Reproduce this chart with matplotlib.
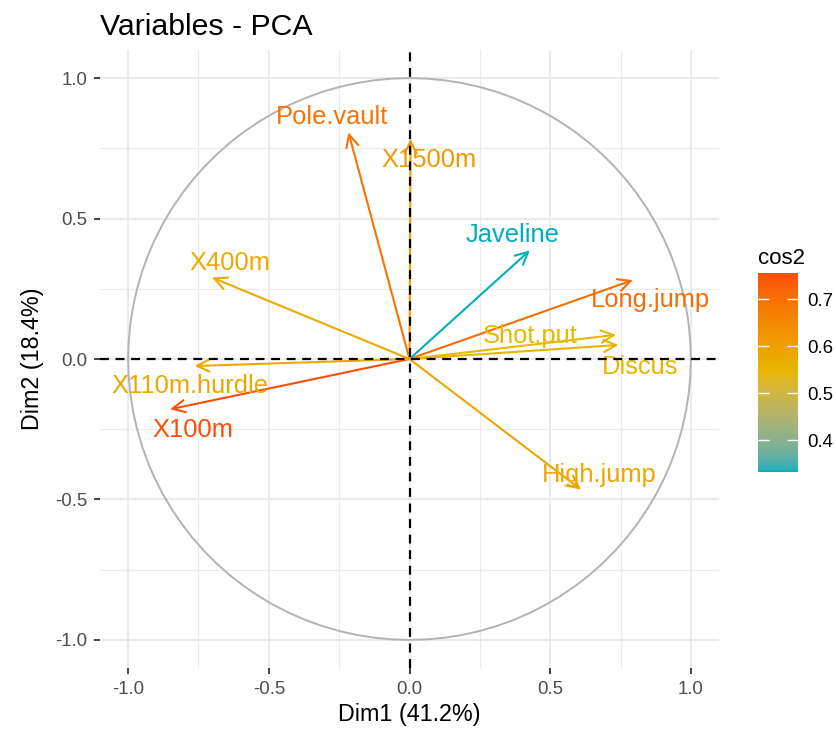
import numpy as np
import matplotlib
matplotlib.use("Agg")
import matplotlib.pyplot as plt
from matplotlib.colors import ListedColormap, Normalize, to_rgb
from matplotlib.patches import FancyArrowPatch

plt.rcParams['font.family'] = ['Liberation Sans', 'DejaVu Sans']

# coordenadas das variáveis (Dim1, Dim2)
variables = ['X100m', 'Long.jump', 'Shot.put', 'High.jump', 'X400m',
             'X110m.hurdle', 'Discus', 'Pole.vault', 'Javeline', 'X1500m']
dim1 = [-0.851, 0.794, 0.734, 0.610, -0.702, -0.764, 0.743, -0.217, 0.428, 0.004]
dim2 = [-0.179, 0.281, 0.086, -0.465, 0.290, -0.025, 0.050, 0.807, 0.387, 0.784]
cos2 = [0.756, 0.709, 0.546, 0.588, 0.577, 0.584, 0.555, 0.698, 0.333, 0.615]

# posição dos rótulos (centro x, linha de base y), como no ggrepel
label_pos = {
    'X100m': (-0.771, -0.277),
    'Long.jump': (0.855, 0.185),
    'Shot.put': (0.428, 0.057),
    'High.jump': (0.675, -0.437),
    'X400m': (-0.638, 0.316),
    'X110m.hurdle': (-0.780, -0.121),
    'Discus': (0.819, -0.053),
    'Pole.vault': (-0.275, 0.835),
    'Javeline': (0.366, 0.416),
    'X1500m': (0.071, 0.682),
}

ticks = [-1.0, -0.5, 0.0, 0.5, 1.0]
cbar_ticks = [0.4, 0.5, 0.6, 0.7]
grad_cols = ['#00AFBB', '#E7B800', '#FC4E07']


# gradiente interpolado em Lab (como o ggplot)
def srgb_to_lab(rgb):
    rgb = np.asarray(rgb, dtype=float)
    lin = np.where(rgb <= 0.04045, rgb / 12.92, ((rgb + 0.055) / 1.055) ** 2.4)
    M = np.array([[0.4124, 0.3576, 0.1805], [0.2126, 0.7152, 0.0722], [0.0193, 0.1192, 0.9505]])
    xyz = M @ lin / np.array([0.95047, 1.0, 1.08883])
    f = np.where(xyz > 0.008856, np.cbrt(xyz), 7.787 * xyz + 16 / 116)
    return np.array([116 * f[1] - 16, 500 * (f[0] - f[1]), 200 * (f[1] - f[2])])


def lab_to_srgb(lab):
    L, a, b = lab
    fy = (L + 16) / 116
    fx = fy + a / 500
    fz = fy - b / 200
    f = np.array([fx, fy, fz])
    xyz = np.where(f ** 3 > 0.008856, f ** 3, (f - 16 / 116) / 7.787) * np.array([0.95047, 1.0, 1.08883])
    Minv = np.array([[3.2406, -1.5372, -0.4986], [-0.9689, 1.8758, 0.0415], [0.0557, -0.2040, 1.0570]])
    lin = Minv @ xyz
    rgb = np.where(lin <= 0.0031308, 12.92 * lin, 1.055 * np.clip(lin, 0, None) ** (1 / 2.4) - 0.055)
    return np.clip(rgb, 0, 1)


labs = [srgb_to_lab(to_rgb(c)) for c in grad_cols]
lut = []
for t in np.linspace(0, 1, 256):
    seg = min(int(t * 2), 1)
    u = t * 2 - seg
    lut.append(lab_to_srgb(labs[seg] * (1 - u) + labs[seg + 1] * u))
cmap = ListedColormap(lut)
norm = Normalize(vmin=min(cos2), vmax=max(cos2))

W, H = 837, 731
fig = plt.figure(figsize=(W / 100, H / 100), dpi=100)


def px_axes(left, top, right, bottom):
    return fig.add_axes([left / W, 1 - bottom / H, (right - left) / W, (bottom - top) / H])


ax = px_axes(100, 50, 719, 668)
ax.set_xlim(-1.1, 1.1)
ax.set_ylim(-1.1, 1.1)

# grade estilo theme_minimal
for v in ticks:
    ax.axvline(v, color='#EBEBEB', lw=1.5, zorder=0)
    ax.axhline(v, color='#EBEBEB', lw=1.5, zorder=0)
for v in [-0.75, -0.25, 0.25, 0.75]:
    ax.axvline(v, color='#EBEBEB', lw=0.8, zorder=0)
    ax.axhline(v, color='#EBEBEB', lw=0.8, zorder=0)

# círculo de correlação
theta = np.linspace(0, 2 * np.pi, 101)
ax.plot(np.cos(theta), np.sin(theta), color='#B3B3B3', lw=1.4, zorder=1)

for name, x, y, c in zip(variables, dim1, dim2, cos2):
    col = cmap(norm(c))
    arr = FancyArrowPatch((0, 0), (x, y), arrowstyle='->,head_length=0.45,head_width=0.22',
                          mutation_scale=20, color=col, lw=1.5, shrinkA=0, shrinkB=0, zorder=3)
    ax.add_patch(arr)
    lx, ly = label_pos[name]
    ax.text(lx, ly, name, color=col, fontsize=18.4, ha='center', va='baseline', zorder=4)

ax.axhline(0, color='black', lw=1.6, linestyle=(0, (4, 3)), zorder=5)
ax.axvline(0, color='black', lw=1.6, linestyle=(0, (4, 3)), zorder=5)

for s in ax.spines.values():
    s.set_visible(False)
ax.set_xticks(ticks)
ax.set_yticks(ticks)
ax.set_xticklabels([f"{t:.1f}" for t in ticks])
ax.set_yticklabels([f"{t:.1f}" for t in ticks])
ax.tick_params(length=4, width=1.3, color='#333333', labelcolor='#4D4D4D', labelsize=13.4, pad=5)

ax.set_xlabel('Dim1 (41.2%)', fontsize=16.8, labelpad=4)
ax.set_ylabel('Dim2 (18.4%)', fontsize=16.8, labelpad=8)
fig.text(100 / W, 1 - 35 / H, 'Variables - PCA', fontsize=21.8, ha='left', va='baseline')

# barra de cores
cax = px_axes(758, 273, 798, 472)
grad = np.linspace(min(cos2), max(cos2), 256).reshape(-1, 1)
cax.imshow(grad, aspect='auto', cmap=cmap, norm=norm, origin='lower',
           extent=[0, 1, min(cos2), max(cos2)])
cax.set_xlim(0, 1)
cax.set_ylim(min(cos2), max(cos2))
cax.set_xticks([])
cax.yaxis.tick_right()
cax.set_yticks(cbar_ticks)
cax.set_yticklabels([f"{t:.1f}" for t in cbar_ticks])
cax.tick_params(axis='y', direction='in', length=8, width=1, color='white',
                left=True, right=True, labelcolor='#000000', labelsize=13.4, pad=7)
for s in cax.spines.values():
    s.set_visible(False)
fig.text(758 / W, 1 - 264 / H, 'cos2', fontsize=16, ha='left', va='baseline')

fig.savefig('out.png', dpi=100)
